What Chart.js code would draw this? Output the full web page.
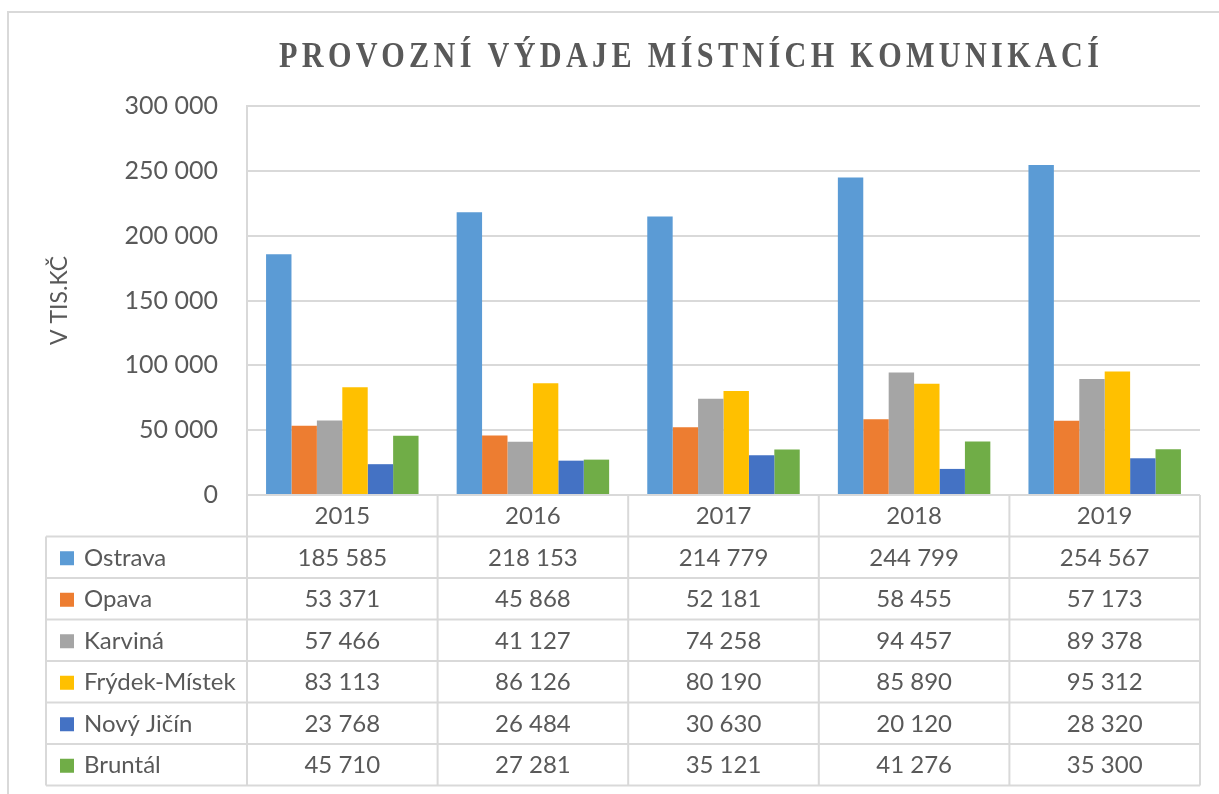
<!DOCTYPE html>
<html>
<head>
<meta charset="utf-8">
<script src="https://cdn.jsdelivr.net/npm/chart.js@4/dist/chart.umd.min.js"></script>
<style>
  html, body { margin: 0; padding: 0; background: #fff; }
  #wrap { width: 1219px; height: 794px; position: relative; }
</style>
</head>
<body>
<div id="wrap"><canvas id="myChart" width="1219" height="794"></canvas></div>
<script>
// data
const years = ['2015', '2016', '2017', '2018', '2019'];
const ostrava = [185585, 218153, 214779, 244799, 254567];
const opava = [53371, 45868, 52181, 58455, 57173];
const karvina = [57466, 41127, 74258, 94457, 89378];
const frydek = [83113, 86126, 80190, 85890, 95312];
const novyJicin = [23768, 26484, 30630, 20120, 28320];
const bruntal = [45710, 27281, 35121, 41276, 35300];
const yMax = 300000;
const yStep = 50000;

const titleText = 'PROVOZNÍ VÝDAJE MÍSTNÍCH KOMUNIKACÍ';
const yTitle = 'V TIS.KČ';
const textColor = '#595959';
const lineColor = '#d9d9d9';

// 185585 -> "185 585"
function fmt(v){
    return String(v).replace(/\B(?=(\d{3})+(?!\d))/g, ' ');
}

// frame, title and the data table under the plot
const tablePlugin = {
    id: 'tablePlugin',
    beforeDraw(chart){
        const ctx = chart.ctx;
        ctx.save();
        ctx.fillStyle = '#fff';
        ctx.fillRect(0, 0, chart.width, chart.height);
        ctx.strokeStyle = lineColor;
        ctx.lineWidth = 2;
        ctx.strokeRect(8, 12, chart.width + 20, chart.height + 20);
        ctx.restore();
    },
    afterDraw(chart){
        const ctx = chart.ctx;
        const area = chart.chartArea;
        const x = chart.scales.x;
        const n = chart.data.labels.length;
        const step = (x.right - x.left) / n;
        const rowH = 41.5;
        const tableLeft = 46;
        const top = area.bottom;
        const sets = chart.data.datasets;
        const bottom = top + rowH * (sets.length + 1);

        ctx.save();
        // title: tall serif, squeezed to the width seen in the picture
        ctx.fillStyle = textColor;
        ctx.font = 'bold 35px "Liberation Serif"';
        ctx.textBaseline = 'middle';
        ctx.textAlign = 'left';
        ctx.letterSpacing = '5px';
        const wanted = 820;
        const w = ctx.measureText(titleText).width - 5;
        ctx.save();
        ctx.translate(689 - wanted / 2, 58);
        ctx.scale(wanted / w, 1);
        ctx.fillText(titleText, 0, 0);
        ctx.restore();
        ctx.letterSpacing = '0px';

        // table lines
        ctx.strokeStyle = lineColor;
        ctx.lineWidth = 2;
        ctx.beginPath();
        for (let i = 0; i <= n; i++) {
            const cx = x.left + step * i;
            ctx.moveTo(cx, top);
            ctx.lineTo(cx, bottom);
        }
        ctx.moveTo(tableLeft, top + rowH);
        ctx.lineTo(tableLeft, bottom);
        for (let r = 1; r <= sets.length + 1; r++) {
            const yy = top + rowH * r;
            ctx.moveTo(tableLeft, yy);
            ctx.lineTo(x.right, yy);
        }
        ctx.stroke();

        // year header
        ctx.font = '24px Lato';
        ctx.textAlign = 'center';
        ctx.fillStyle = textColor;
        for (let i = 0; i < n; i++) {
            ctx.fillText(chart.data.labels[i], x.getPixelForValue(i), top + rowH / 2 + 1);
        }
        // rows
        sets.forEach((ds, r) => {
            const cy = top + rowH * (r + 1) + rowH / 2 + 1;
            ctx.fillStyle = ds.backgroundColor;
            ctx.fillRect(tableLeft + 14, cy - 7, 14, 14);
            ctx.fillStyle = textColor;
            ctx.textAlign = 'left';
            ctx.fillText(ds.label, tableLeft + 38, cy);
            ctx.textAlign = 'center';
            ds.data.forEach((v, i) => {
                ctx.fillText(fmt(v), x.getPixelForValue(i), cy);
            });
        });
        ctx.restore();
    }
};

const ctx = document.getElementById('myChart').getContext('2d');
const chart = new Chart(ctx, {
    type: 'bar',
    data: {
        labels: years,
        datasets: [
            { label: 'Ostrava', data: ostrava, backgroundColor: '#5b9bd5' },
            { label: 'Opava', data: opava, backgroundColor: '#ed7d31' },
            { label: 'Karviná', data: karvina, backgroundColor: '#a5a5a5' },
            { label: 'Frýdek-Místek', data: frydek, backgroundColor: '#ffc000' },
            { label: 'Nový Jičín', data: novyJicin, backgroundColor: '#4472c4' },
            { label: 'Bruntál', data: bruntal, backgroundColor: '#70ad47' }
        ]
    },
    options: {
        responsive: false,
        animation: false,
        datasets: { bar: { categoryPercentage: 0.8, barPercentage: 1.0 } },
        layout: { padding: { top: 106, right: 19, bottom: 299, left: 0 } },
        plugins: {
            legend: { display: false },
            tooltip: { enabled: false },
            title: { display: false }
        },
        scales: {
            x: { display: false },
            y: {
                min: 0,
                max: yMax,
                ticks: {
                    stepSize: yStep,
                    padding: 29,
                    color: textColor,
                    font: { family: 'Lato', size: 25 },
                    callback: v => fmt(v)
                },
                grid: { color: lineColor, lineWidth: 2, drawTicks: false },
                border: { display: true, color: lineColor, width: 2 },
                title: {
                    display: true,
                    text: yTitle,
                    color: textColor,
                    font: { family: 'Lato', size: 23 },
                    padding: { top: 46, bottom: 0 }
                },
                afterFit: s => { s.width = 247; }
            }
        }
    },
    plugins: [tablePlugin]
});
</script>
</body>
</html>
